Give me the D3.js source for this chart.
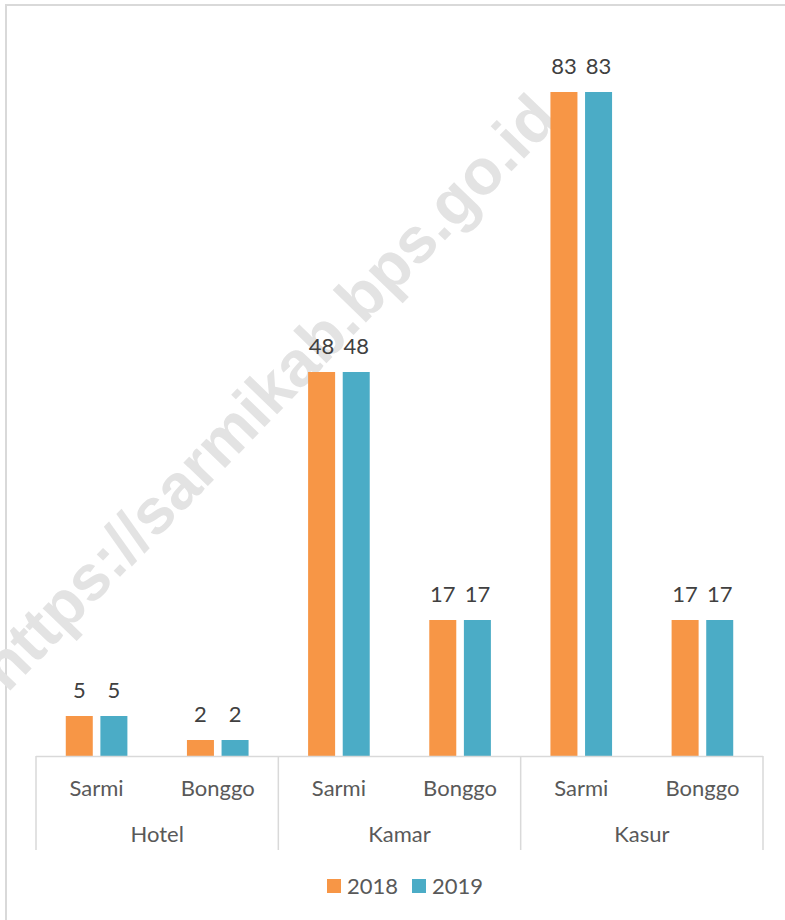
<!DOCTYPE html>
<html>
<head>
<meta charset="utf-8">
<script src="https://cdn.jsdelivr.net/npm/d3@7"></script>
<style>
  body { margin: 0; background: #fff; }
  text { font-family: Lato, "Open Sans", sans-serif; }
</style>
</head>
<body>
<div id="chart"></div>
<script>
const groups = ["Hotel", "Kamar", "Kasur"];
const places = ["Sarmi", "Bonggo"];
const years = ["2018", "2019"];
const values2018 = [5, 2, 48, 17, 83, 17];
const values2019 = [5, 2, 48, 17, 83, 17];
const colors = ["#F79646", "#4BACC6"];

const w = 785, h = 920;
const svg = d3.select("#chart")
  .append("svg")
  .attr("width", w)
  .attr("height", h);

// outer frame (only top and left edges are visible in the crop)
svg.append("rect")
  .attr("x", 6).attr("y", 5)
  .attr("width", w + 20).attr("height", h + 20)
  .attr("fill", "#fff")
  .attr("stroke", "#d9d9d9")
  .attr("stroke-width", 2);

// watermark behind the bars
svg.append("text")
  .attr("transform", "translate(268,392) rotate(-46)")
  .attr("text-anchor", "middle")
  .attr("dominant-baseline", "central")
  .style("font-family", "'Liberation Sans', Arial, sans-serif")
  .style("font-weight", "bold")
  .style("font-size", "64px")
  .attr("fill", "#e3e3e3")
  .text("https://sarmikab.bps.go.id");

const rows = [];
groups.forEach((g, gi) => places.forEach((p, pi) => {
  const i = gi * places.length + pi;
  rows.push({ key: g + "|" + p, group: g, place: p, values: [values2018[i], values2019[i]] });
}));

const x0 = d3.scaleBand()
  .domain(rows.map(d => d.key))
  .range([36, 763]);

const x1 = d3.scaleBand()
  .domain(years)
  .range([0, x0.bandwidth()])
  .paddingInner(0.22)
  .paddingOuter(0.86);

const y = d3.scaleLinear()
  .domain([0, 90])
  .range([756, 36]);

const slot = svg.selectAll("g.slot")
  .data(rows)
  .join("g")
  .attr("class", "slot")
  .attr("transform", d => `translate(${x0(d.key)},0)`);

slot.selectAll("rect")
  .data(d => d.values.map((v, i) => ({ year: years[i], v, i })))
  .join("rect")
  .attr("x", d => x1(d.year))
  .attr("y", d => y(d.v))
  .attr("width", x1.bandwidth())
  .attr("height", d => y(0) - y(d.v))
  .attr("fill", d => colors[d.i]);

slot.selectAll("text.val")
  .data(d => d.values.map((v, i) => ({ year: years[i], v, i })))
  .join("text")
  .attr("class", "val")
  .attr("x", d => x1(d.year) + x1.bandwidth() / 2)
  .attr("y", d => y(d.v) - 18)
  .attr("text-anchor", "middle")
  .style("font-size", "22px")
  .attr("fill", "#404040")
  .text(d => d.v);

// category axis: baseline, separators, two rows of labels
const axisColor = "#d9d9d9";
svg.append("line")
  .attr("x1", 36).attr("x2", 763)
  .attr("y1", 756.5).attr("y2", 756.5)
  .attr("stroke", axisColor).attr("stroke-width", 1.5);

const xg = d3.scaleBand().domain(groups).range([36, 763]);
const seps = groups.map(g => xg(g)).concat([763]);
svg.selectAll("line.sep")
  .data(seps)
  .join("line")
  .attr("class", "sep")
  .attr("x1", d => d).attr("x2", d => d)
  .attr("y1", 756).attr("y2", 850)
  .attr("stroke", axisColor).attr("stroke-width", 1.5);

svg.selectAll("text.place")
  .data(rows)
  .join("text")
  .attr("class", "place")
  .attr("x", d => x0(d.key) + x0.bandwidth() / 2)
  .attr("y", 788)
  .attr("dy", "0.35em")
  .attr("text-anchor", "middle")
  .style("font-size", "22px")
  .attr("fill", "#595959")
  .text(d => d.place);

svg.selectAll("text.group")
  .data(groups)
  .join("text")
  .attr("class", "group")
  .attr("x", d => xg(d) + xg.bandwidth() / 2)
  .attr("y", 834.5)
  .attr("dy", "0.35em")
  .attr("text-anchor", "middle")
  .style("font-size", "22px")
  .attr("fill", "#595959")
  .text(d => d);

// legend
const legendX = [327, 412];
const legend = svg.selectAll("g.legend")
  .data(years)
  .join("g")
  .attr("class", "legend")
  .attr("transform", (d, i) => `translate(${legendX[i]},879)`);

legend.append("rect")
  .attr("width", 14).attr("height", 14)
  .attr("fill", (d, i) => colors[i]);

legend.append("text")
  .attr("x", 20)
  .attr("y", 7)
  .attr("dy", "0.35em")
  .style("font-size", "22px")
  .attr("fill", "#595959")
  .text(d => d);
</script>
</body>
</html>
